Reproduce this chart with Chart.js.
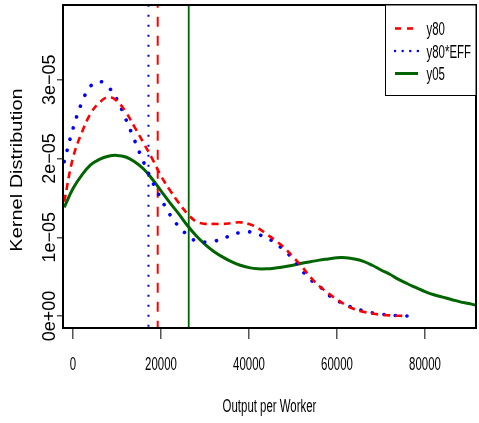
<!DOCTYPE html>
<html>
<head>
<meta charset="utf-8">
<script src="https://cdn.jsdelivr.net/npm/chart.js@4.4.1/dist/chart.umd.min.js"></script>
<style>
  html, body { margin: 0; padding: 0; background: #fff; }
  #wrap { width: 479px; height: 423px; }
</style>
</head>
<body>
<div id="wrap"><canvas id="c" width="479" height="423"></canvas></div>
<script>
// ---- data (densities in units of 1e-5) ----
const outputGrid = [-2000,0,2000,4000,6000,8000,10000,12000,14000,16000,18000,20000,22000,24000,26000,28000,30000,
  32000,34000,36000,38000,40000,42000,44000,46000,48000,50000,52000,54000,56000,58000,60000,62000,64000,66000,
  68000,70000,72000,74000,76000,78000,80000,82000,84000,86000,88000,90000,92000];

const y80 = [1.45,2.01,2.33,2.57,2.71,2.78,2.73,2.59,2.40,2.20,2.00,1.78,1.60,1.44,1.30,1.20,1.17,1.17,1.17,1.18,
  1.19,1.17,1.12,1.04,0.96,0.87,0.75,0.63,0.49,0.38,0.29,0.21,0.14,0.086,0.053,0.032,0.017,0.008,0.003,0.001];

const y80EFF = [1.96,2.38,2.71,2.92,2.98,2.91,2.75,2.50,2.23,1.96,1.71,1.49,1.29,1.14,1.03,0.95,0.94,0.95,0.98,1.03,
  1.06,1.07,1.04,0.99,0.93,0.83,0.73,0.58,0.46,0.38,0.27,0.20,0.14,0.10,0.066,0.04,0.024,0.013,0.005,0.001,0.0];

const y05 = [1.38,1.62,1.79,1.92,1.99,2.03,2.04,2.02,1.96,1.87,1.74,1.59,1.44,1.30,1.15,1.02,0.91,0.82,0.75,0.69,
  0.645,0.615,0.60,0.60,0.61,0.625,0.645,0.67,0.69,0.71,0.725,0.74,0.74,0.725,0.695,0.645,0.585,0.53,0.465,0.41,
  0.36,0.31,0.27,0.24,0.21,0.18,0.16,0.13];

const seriesNames = ["y80", "y80*EFF", "y05"];
const cutoffs = [19250, 17150, 26300];   // vertical reference lines: y80, y80*EFF, y05

const xTickValues = [0, 20000, 40000, 60000, 80000];
const xTickLabels = ["0", "20000", "40000", "60000", "80000"];
const yTickValues = [0, 1e-5, 2e-5, 3e-5];
const yTickLabels = ["0e+00", "1e\u221205", "2e\u221205", "3e\u221205"];
const xTitle = "Output per Worker";
const yTitle = "Kernel Distribution";

const UNIT = 1e-5;
const X_MIN = -2273, X_MAX = 91590, Y_MIN = -1.52e-6, Y_MAX = 3.95e-5;

// ---- styles ----
const RED = "#ff0000", BLUE = "#0000ff", GREEN = "#006400";
const FAMILY = "'Liberation Sans', Arial, sans-serif";
const FONT = "18px " + FAMILY;
const SX = 0.635;

function curve(vals) { return vals.map((v, i) => ({ x: outputGrid[i], y: v * UNIT })); }
function vline(x) { return [{ x: x, y: Y_MIN - 1e-5 }, { x: x, y: Y_MAX + 1e-5 }]; }

const datasets = [
  { label: seriesNames[0], data: curve(y80), borderColor: RED, borderWidth: 2.6, borderDash: [7, 5], tension: 0.4 },
  { label: seriesNames[1], data: curve(y80EFF), borderColor: BLUE, borderWidth: 3.6, borderDash: [0.1, 11.5], borderCapStyle: "round", tension: 0.4 },
  { label: seriesNames[2], data: curve(y05), borderColor: GREEN, borderWidth: 3, tension: 0.4 },
  { label: "v1", data: vline(cutoffs[0]), borderColor: RED, borderWidth: 2, borderDash: [10, 9] },
  { label: "v2", data: vline(cutoffs[1]), borderColor: BLUE, borderWidth: 2, borderDash: [2, 8] },
  { label: "v3", data: vline(cutoffs[2]), borderColor: GREEN, borderWidth: 1.8 }
].map(d => Object.assign({ pointRadius: 0, fill: false, spanGaps: false }, d));

function txt(ctx, s, x, y, opt) {
  opt = opt || {};
  ctx.save();
  ctx.translate(x, y);
  ctx.scale(opt.sx == null ? SX : opt.sx, 1);
  if (opt.rot) ctx.rotate(opt.rot);
  ctx.font = opt.font || FONT;
  ctx.fillStyle = "#000";
  ctx.textAlign = opt.align || "center";
  ctx.textBaseline = "alphabetic";
  ctx.fillText(s, 0, 0);
  ctx.restore();
}

const decor = {
  id: "decor",
  afterDraw(chart) {
    const ctx = chart.ctx, a = chart.chartArea;
    const xs = chart.scales.x, ys = chart.scales.y;
    // plot box
    ctx.save();
    ctx.strokeStyle = "#000"; ctx.lineWidth = 2;
    ctx.strokeRect(a.left, a.top, a.right - a.left, a.bottom - a.top);
    ctx.restore();
    // tick labels
    xTickValues.forEach((v, i) => txt(ctx, xTickLabels[i], xs.getPixelForValue(v), 370));
    yTickValues.forEach((v, i) => txt(ctx, yTickLabels[i], 55, ys.getPixelForValue(v),
      { rot: -Math.PI / 2, sx: 1, font: "18px " + FAMILY }));
    // axis titles
    txt(ctx, xTitle, (a.left + a.right) / 2, 412);
    txt(ctx, yTitle, 22, 170, { rot: -Math.PI / 2, sx: 0.85, font: "20px " + FAMILY });
    // legend
    const L = 385.5, T = a.top, R = a.right, B = 95.5;
    ctx.save();
    ctx.fillStyle = "#fff";
    ctx.fillRect(L, T, R - L, B - T);
    ctx.strokeStyle = "#000"; ctx.lineWidth = 1;
    ctx.strokeRect(L, T, R - L, B - T);
    const rows = [28.5, 51, 73.5];
    const st = [
      { c: RED, w: 2.6, d: [6, 6], cap: "butt" },
      { c: BLUE, w: 2.4, d: [0.1, 7.5], cap: "round" },
      { c: GREEN, w: 3, d: [], cap: "butt" }
    ];
    rows.forEach((yy, i) => {
      ctx.beginPath();
      ctx.strokeStyle = st[i].c; ctx.lineWidth = st[i].w; ctx.setLineDash(st[i].d); ctx.lineCap = st[i].cap;
      ctx.moveTo(395, yy); ctx.lineTo(418, yy); ctx.stroke();
      txt(ctx, seriesNames[i], 426.5, yy + 6.5, { align: "left" });
    });
    ctx.restore();
  }
};

new Chart(document.getElementById("c"), {
  type: "line",
  data: { datasets },
  options: {
    responsive: false,
    animation: false,
    devicePixelRatio: 1,
    layout: { padding: { left: 0, top: 5, right: 3, bottom: 0 } },
    plugins: { legend: { display: false }, tooltip: { enabled: false } },
    scales: {
      x: {
        type: "linear", min: X_MIN, max: X_MAX,
        afterBuildTicks: s => { s.ticks = xTickValues.map(v => ({ value: v })); },
        afterFit: s => { s.height = 95; },
        ticks: { display: false },
        border: { display: false },
        grid: { drawOnChartArea: false, drawTicks: true, tickLength: 11, color: "#555", lineWidth: 1.5 }
      },
      y: {
        type: "linear", min: Y_MIN, max: Y_MAX,
        afterBuildTicks: s => { s.ticks = yTickValues.map(v => ({ value: v })); },
        afterFit: s => { s.width = 63; },
        ticks: { display: false },
        border: { display: false },
        grid: { drawOnChartArea: false, drawTicks: true, tickLength: 6, color: "#555", lineWidth: 1.5 }
      }
    }
  },
  plugins: [decor]
});
</script>
</body>
</html>
